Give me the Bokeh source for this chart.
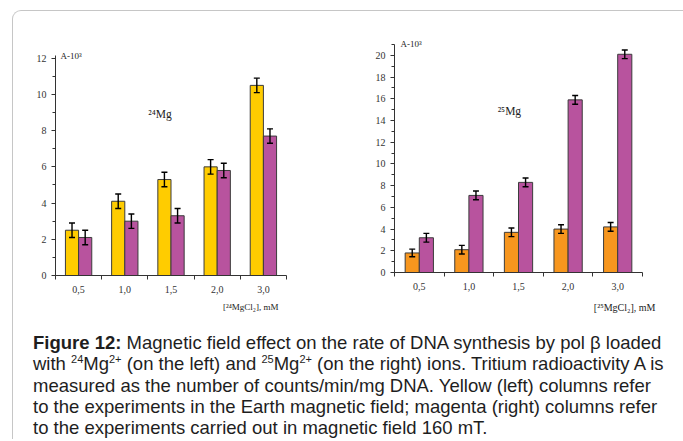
import numpy as np
from bokeh.plotting import figure
from bokeh.models import FixedTicker, Range1d, Div, ColumnDataSource, Title
from bokeh.layouts import row, column
from bokeh.embed import file_html
from bokeh.resources import INLINE

# ---------------- data ----------------
cats = ["0,5", "1,0", "1,5", "2,0", "3,0"]
mg24_earth = [2.5, 4.1, 5.3, 6.0, 10.5]
mg24_earth_err = [0.4, 0.4, 0.4, 0.4, 0.4]
mg24_field = [2.1, 3.0, 3.3, 5.8, 7.7]
mg24_field_err = [0.4, 0.4, 0.4, 0.4, 0.4]
mg25_earth = [1.8, 2.1, 3.7, 4.0, 4.2]
mg25_earth_err = [0.35, 0.4, 0.4, 0.4, 0.4]
mg25_field = [3.2, 7.1, 8.3, 15.9, 20.1]
mg25_field_err = [0.4, 0.4, 0.4, 0.4, 0.4]
left_yticks = [0, 2, 4, 6, 8, 10, 12]
right_yticks = [0, 2, 4, 6, 8, 10, 12, 14, 16, 18, 20]

YELLOW = "#FFCC00"
ORANGE = "#F7961E"
MAGENTA = "#B8539E"
SERIF = "Liberation Serif"

BW = 0.285
OFF = 0.1425


def make_chart(width, height, borders, ymax, yticks, earth, earth_err, field, field_err,
               earth_color, iso_label, axis_label, lbl):
    bl, br, bt, bb = borders
    p = figure(width=width, height=height, output_backend="svg", toolbar_location=None,
               x_range=Range1d(0, len(cats)), y_range=Range1d(0, ymax),
               min_border_left=bl, min_border_right=br, min_border_top=bt, min_border_bottom=bb)
    p.outline_line_color = None
    p.grid.visible = False
    p.background_fill_color = "white"
    p.border_fill_color = "white"

    xc = np.arange(len(cats)) + 0.5
    for vals, errs, off, col in ((earth, earth_err, -OFF, earth_color), (field, field_err, OFF, MAGENTA)):
        x = xc + off
        v = np.array(vals)
        e = np.array(errs)
        src = ColumnDataSource(dict(x=x, top=v, lo=v - e, hi=v + e,
                                    c0=x - lbl["cap"], c1=x + lbl["cap"]))
        p.vbar(x="x", top="top", width=BW, bottom=0, source=src, fill_color=col,
               line_color="#3c3c3c", line_width=1)
        p.segment(x0="x", y0="lo", x1="x", y1="hi", source=src, line_color="black", line_width=1.4)
        p.segment(x0="c0", y0="lo", x1="c1", y1="lo", source=src, line_color="black", line_width=1.4)
        p.segment(x0="c0", y0="hi", x1="c1", y1="hi", source=src, line_color="black", line_width=1.4)

    # iso label inside the plot area
    p.text(x=[lbl["ix"]], y=[lbl["iy"]], text=[iso_label], text_font={"value": SERIF},
           text_font_size="11.5px", text_color="#222222", text_baseline="middle")

    # x axis: labels at centres, ticks at boundaries
    xa = p.xaxis[0]
    xa.ticker = FixedTicker(ticks=list(xc), minor_ticks=list(range(len(cats) + 1)))
    xa.major_label_overrides = {float(v): c for v, c in zip(xc, cats)}
    xa.major_tick_line_color = None
    xa.major_tick_out = 0
    xa.major_tick_in = 0
    xa.minor_tick_in = 0
    xa.minor_tick_out = 4
    xa.minor_tick_line_color = "#333333"
    xa.axis_line_color = "#333333"
    xa.major_label_text_font = SERIF
    xa.major_label_text_font_size = "10px"
    xa.major_label_text_color = "#333333"
    xa.major_label_standoff = 6

    ya = p.yaxis[0]
    ya.ticker = FixedTicker(ticks=yticks, minor_ticks=list(range(0, int(ymax) + 1)))
    ya.major_tick_in = 0
    ya.major_tick_out = 4
    ya.minor_tick_in = 0
    ya.minor_tick_out = 3
    ya.major_tick_line_color = "#333333"
    ya.minor_tick_line_color = "#333333"
    ya.axis_line_color = "#333333"
    ya.major_label_text_font = SERIF
    ya.major_label_text_font_size = "10px"
    ya.major_label_text_color = "#333333"
    ya.major_label_standoff = 5

    p.add_layout(Title(text="A-10³", align="left", offset=lbl["aoff"], standoff=lbl["astand"],
                       text_font=SERIF, text_font_size="9px", text_font_style="normal",
                       text_color="#222222"), "above")
    p.add_layout(Title(text=axis_label, align="right", offset=lbl["loff"], standoff=lbl["lstand"],
                       text_font=SERIF, text_font_size=lbl["lsize"], text_font_style="normal",
                       text_color="#222222"), "below")
    return p


p1 = make_chart(340, 322, (55, 54, 55, 47), 12.15, left_yticks, mg24_earth, mg24_earth_err,
                mg24_field, mg24_field_err, YELLOW, "²⁴Mg", "[²⁴MgCl₂], mM",
                dict(cap=0.065, ix=2.01, iy=8.9, aoff=5, astand=-10, loff=8, lstand=8, lsize="9px"))
p2 = make_chart(343, 322, (54, 41, 44, 50), 21.0, right_yticks, mg25_earth, mg25_earth_err,
                mg25_field, mg25_field_err, ORANGE, "²⁵Mg", "[²⁵MgCl₂], mM",
                dict(cap=0.06, ix=2.08, iy=14.9, aoff=6, astand=-8, loff=-13, lstand=14, lsize="10px"))

frame_html = ("<div style='position:absolute;left:12px;top:-312px;width:671px;height:429px;"
              "border-left:1.5px solid #c6c6c6;border-top:1.5px solid #c6c6c6;"
              "border-top-left-radius:9px;pointer-events:none;box-sizing:border-box;'></div>")

sup = "<sup style='font-size:11px;line-height:0;'>"
caption = Div(
    text=(
        "<div style='position:relative;width:683px;height:110px;'>" + frame_html +
        "<div style=\"font-family:'Liberation Sans',Arial,sans-serif;font-size:18.5px;"
        "line-height:21.3px;color:#1e1e1e;white-space:nowrap;padding-left:33px;padding-top:10px;\">"
        "<b>Figure 12:</b> Magnetic field effect on the rate of DNA synthesis by pol β loaded<br>"
        "with " + sup + "24</sup>Mg" + sup + "2+</sup> (on the left) and "
        + sup + "25</sup>Mg" + sup + "2+</sup> (on the right) ions. "
        "Tritium radioactivity A is<br>"
        "measured as the number of counts/min/mg DNA. Yellow (left) columns refer<br>"
        "to the experiments in the Earth magnetic field; magenta (right) columns refer<br>"
        "to the experiments carried out in magnetic field 160 mT.</div></div>"
    ),
    width=683, height=110, margin=0,
)

layout = column(row(column(p1), column(p2)), caption)

open("out.html", "w").write(file_html(layout, INLINE))
